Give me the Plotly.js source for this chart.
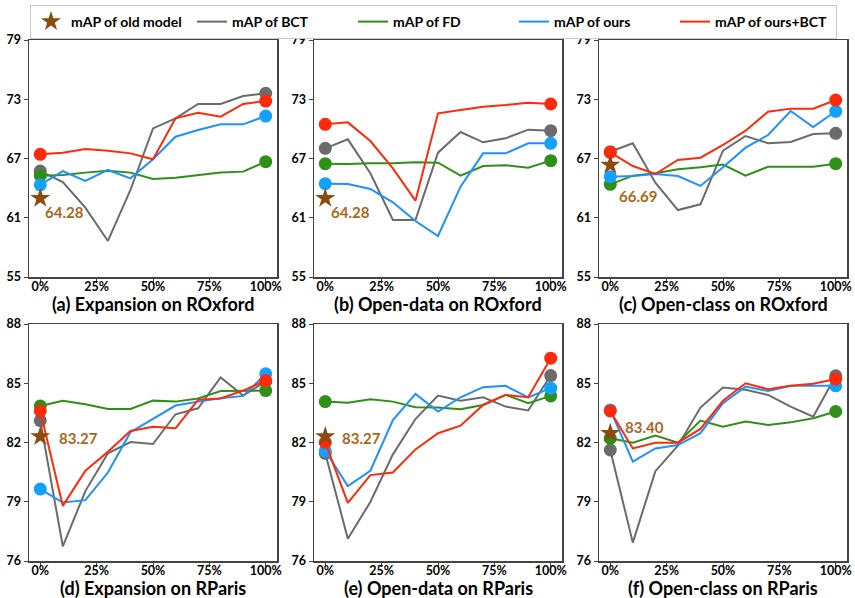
<!DOCTYPE html>
<html>
<head>
<meta charset="utf-8">
<script src="https://cdn.plot.ly/plotly-3.0.1.min.js"></script>
<style>
  html, body { margin: 0; padding: 0; background: #fff; }
  #chart { width: 855px; height: 598px; }
</style>
</head>
<body>
<div id="chart"></div>
<script>
// ---- data ----
const ratios = [0, 0.1, 0.2, 0.3, 0.4, 0.5, 0.6, 0.7, 0.8, 0.9, 1.0];
const tickVals = [0, 0.25, 0.5, 0.75, 1.0];
const tickText = ['0%', '25%', '50%', '75%', '100%'];
const seriesNames = ['mAP of BCT', 'mAP of FD', 'mAP of ours', 'mAP of ours+BCT'];
const oldModelName = 'mAP of old model';
const panelTitles = ['(a) Expansion on ROxford', '(b) Open-data on ROxford', '(c) Open-class on ROxford',
                     '(d) Expansion on RParis', '(e) Open-data on RParis', '(f) Open-class on RParis'];
const oxfordTicks = [55, 61, 67, 73, 79];
const parisTicks = [76, 79, 82, 85, 88];

// (a) Expansion on ROxford
const bctA     = [65.73, 64.62, 62.02, 58.65, 63.81, 70.05, 71.07, 72.52, 72.52, 73.33, 73.60];
const fdA      = [65.26, 65.33, 65.57, 65.77, 65.57, 64.92, 65.06, 65.33, 65.57, 65.67, 66.68];
const oursA    = [64.32, 65.73, 64.72, 65.84, 64.99, 66.92, 69.21, 69.89, 70.46, 70.46, 71.30];
const oursBctA = [67.42, 67.59, 67.96, 67.79, 67.52, 66.92, 71.07, 71.64, 71.24, 72.52, 72.82];
// (b) Open-data on ROxford
const bctB     = [68.03, 68.94, 65.50, 60.77, 60.77, 67.59, 69.68, 68.64, 69.04, 69.92, 69.82];
const fdB      = [66.48, 66.44, 66.51, 66.51, 66.61, 66.58, 65.26, 66.24, 66.31, 66.07, 66.78];
const oursB    = [64.45, 64.42, 63.91, 62.56, 60.67, 59.15, 64.15, 67.52, 67.52, 68.54, 68.54];
const oursBctB = [70.46, 70.66, 68.77, 66.00, 62.73, 71.57, 71.91, 72.25, 72.42, 72.65, 72.52];
// (c) Open-class on ROxford
const bctC     = [67.69, 68.54, 64.55, 61.78, 62.36, 67.79, 69.28, 68.54, 68.67, 69.48, 69.55];
const fdC      = [64.38, 65.26, 65.50, 65.90, 66.11, 66.38, 65.26, 66.17, 66.17, 66.17, 66.48];
const oursC    = [65.16, 65.23, 65.43, 65.23, 64.22, 66.11, 68.10, 69.38, 71.81, 70.19, 71.78];
const oursBctC = [67.62, 66.24, 65.43, 66.85, 67.08, 68.37, 69.82, 71.74, 72.05, 72.05, 72.92];
// (d) Expansion on RParis
const bctD     = [83.11, 76.74, 79.54, 81.45, 82.02, 81.92, 83.43, 83.73, 85.29, 84.38, 85.09];
const fdD      = [83.85, 84.11, 83.94, 83.70, 83.70, 84.12, 84.07, 84.23, 84.61, 84.61, 84.63];
const oursD    = [79.64, 78.96, 79.08, 80.48, 82.52, 83.19, 83.87, 84.07, 84.24, 84.36, 85.48];
const oursBctD = [83.60, 78.79, 80.57, 81.53, 82.58, 82.80, 82.72, 84.16, 84.23, 84.63, 85.14];
// (e) Open-data on RParis
const bctE     = [81.45, 77.13, 78.99, 81.40, 83.19, 84.38, 84.12, 84.29, 83.82, 83.62, 85.39];
const fdE      = [84.07, 84.01, 84.19, 84.07, 83.79, 83.77, 83.68, 83.90, 84.41, 83.99, 84.36];
const oursE    = [81.58, 79.79, 80.57, 83.14, 84.46, 83.57, 84.29, 84.80, 84.87, 84.28, 84.75];
const oursBctE = [82.01, 78.94, 80.35, 80.48, 81.65, 82.47, 82.85, 83.90, 84.41, 84.29, 86.27];
// (f) Open-class on RParis
const bctF     = [81.62, 76.93, 80.55, 81.84, 83.77, 84.78, 84.67, 84.41, 83.82, 83.31, 85.38];
const fdF      = [82.21, 81.99, 82.35, 81.99, 83.11, 82.80, 83.06, 82.89, 83.02, 83.23, 83.57];
const oursF    = [83.65, 81.03, 81.70, 81.87, 82.47, 83.99, 84.83, 84.61, 84.87, 84.87, 84.87];
const oursBctF = [83.60, 81.70, 81.99, 81.99, 82.69, 84.11, 85.00, 84.70, 84.87, 84.97, 85.21];

// old model: drawn position and printed label for each panel
const oldModelY      = [62.97, 62.97, 66.34, 82.30, 82.30, 82.47];
const oldModelLabels = ['64.28', '64.28', '66.69', '83.27', '83.27', '83.40'];
const oldLabelX      = [0.013, 0.018, 0.031, 0.074, 0.065, 0.056];
const oldLabelY      = [61.6, 61.6, 63.2, 82.25, 82.25, 82.80];

// ---- styling ----
const colors = ['#6b6b6b', '#2f8f17', '#1e90ff', '#ff2a0a'];
const markerColors = ['#6b6b6b', '#2f8f17', '#14a0ff', '#ff2a0a'];
const starColor = '#8b4a10';
const labelColor = '#a8681c';
const FONT = 'Lato, "Open Sans", sans-serif';

const panels = [
  [bctA, fdA, oursA, oursBctA],
  [bctB, fdB, oursB, oursBctB],
  [bctC, fdC, oursC, oursBctC],
  [bctD, fdD, oursD, oursBctD],
  [bctE, fdE, oursE, oursBctE],
  [bctF, fdF, oursF, oursBctF]
];

const W = 855, H = 598;
const colPx = [[29, 277], [314, 562], [599, 847]];
const rowPx = [[40, 277], [324, 561]];

const traces = [];
const layout = {
  width: W, height: H,
  margin: {l: 0, r: 0, t: 0, b: 0},
  paper_bgcolor: '#ffffff',
  plot_bgcolor: '#ffffff',
  font: {family: FONT, color: '#000', size: 12},
  showlegend: true,
  legend: {
    orientation: 'h',
    x: 0.507, xanchor: 'center',
    y: 1 - 5 / H, yanchor: 'top',
    bgcolor: '#ffffff',
    bordercolor: '#c8c8c8',
    borderwidth: 1,
    font: {family: FONT, size: 14, color: '#000', weight: 'bold'},
    entrywidthmode: 'pixels',
    entrywidth: 116,
    tracegroupgap: 0,
    traceorder: 'normal'
  },
  annotations: []
};

const lastIdx = ratios.length - 1;

panels.forEach((series, p) => {
  const row = Math.floor(p / 3), col = p % 3;
  const sfx = p === 0 ? '' : String(p + 1);
  const xa = 'x' + sfx, ya = 'y' + sfx;
  const isOx = row === 0;

  series.forEach((vals, s) => {
    traces.push({
      type: 'scatter', mode: 'lines',
      x: ratios, y: vals,
      xaxis: xa, yaxis: ya,
      name: seriesNames[s],
      legendgroup: seriesNames[s],
      showlegend: p === 0,
      legendrank: s + 2,
      line: {color: colors[s], width: 2},
      hoverinfo: 'skip'
    });
    // end-point markers (first and last value of the same series)
    traces.push({
      type: 'scatter', mode: 'markers',
      x: [ratios[0], ratios[lastIdx]], y: [vals[0], vals[lastIdx]],
      xaxis: xa, yaxis: ya,
      name: seriesNames[s],
      legendgroup: seriesNames[s],
      showlegend: false,
      marker: {color: markerColors[s], size: 13, opacity: 1, line: {width: 0}},
      hoverinfo: 'skip'
    });
  });
  traces.push({
    type: 'scatter', mode: 'markers',
    x: [0], y: [oldModelY[p]],
    xaxis: xa, yaxis: ya,
    name: oldModelName,
    legendgroup: 'old',
    showlegend: p === 0,
    legendrank: 1,
    marker: {symbol: 'star', size: 15, color: starColor, opacity: 1, line: {width: 0}},
    hoverinfo: 'skip'
  });

  const xd = [colPx[col][0] / W, colPx[col][1] / W];
  const yd = [1 - rowPx[row][1] / H, 1 - rowPx[row][0] / H];
  const axLine = {showline: true, mirror: true, linecolor: '#444', linewidth: 1.5,
                  showgrid: false, zeroline: false, ticks: 'outside', ticklen: 4,
                  tickcolor: '#444', tickwidth: 1,
                  tickfont: {family: FONT, size: 12.5, color: '#000', weight: 'bold'}};
  layout['xaxis' + sfx] = Object.assign({}, axLine, {
    domain: xd, anchor: ya, range: [-0.05, 1.05],
    tickmode: 'array', tickvals: tickVals, ticktext: tickText,
    ticklabelstandoff: -7
  });
  layout['yaxis' + sfx] = Object.assign({}, axLine, {
    domain: yd, anchor: xa, range: isOx ? [55, 79] : [76, 88],
    tickmode: 'array', tickvals: isOx ? oxfordTicks : parisTicks,
    ticktext: (isOx ? oxfordTicks : parisTicks).map(String)
  });

  layout.annotations.push({
    xref: xa, yref: ya, x: oldLabelX[p], y: oldLabelY[p],
    xanchor: 'left', yanchor: 'middle', showarrow: false,
    text: oldModelLabels[p],
    font: {family: FONT, size: 15, color: labelColor, weight: 'bold'}
  });
  layout.annotations.push({
    xref: 'paper', yref: 'paper',
    x: (xd[0] + xd[1]) / 2, y: 1 - (rowPx[row][1] + 27) / H,
    xanchor: 'center', yanchor: 'middle', showarrow: false,
    text: panelTitles[p],
    font: {family: FONT, size: 18, color: '#000', weight: 'bold'}
  });
});

Plotly.newPlot('chart', traces, layout, {staticPlot: true, displayModeBar: false});
</script>
</body>
</html>
